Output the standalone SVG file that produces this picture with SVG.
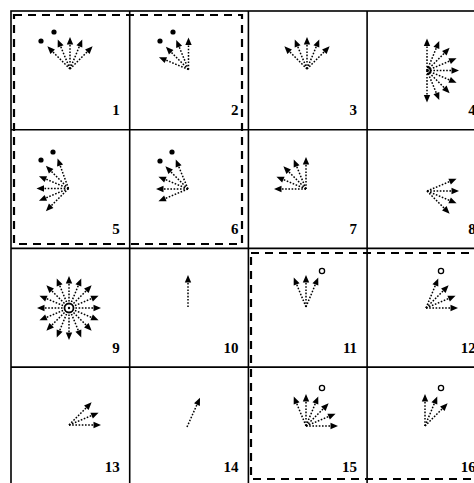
<svg xmlns="http://www.w3.org/2000/svg" xmlns:xlink="http://www.w3.org/1999/xlink" width="474" height="483" viewBox="0 0 474 483">
<style>
.grid{fill:none;stroke:#000;stroke-width:1.6}
.dash{fill:none;stroke:#000;stroke-width:2.2;stroke-dasharray:8 6}
.d{stroke:#000;stroke-width:1.5;stroke-dasharray:1.6 1.6;fill:none}
.lbl{font-family:"Liberation Serif","Times New Roman",serif;font-weight:bold;font-size:15px;text-anchor:end;fill:#000}
.dot{fill:#000}
.oc{fill:none;stroke:#000;stroke-width:1.3}
</style>
<defs>
<g id="arr"><line class="d" x1="0" y1="0" x2="0" y2="-25"/><path d="M0,-32 L-3.2,-24.5 L3.2,-24.5 Z" fill="#000"/></g>
</defs>
<rect width="474" height="483" fill="#fff"/>
<g id="grid">
<rect class="grid" x="11" y="11" width="474.8" height="474.8"/>
<line class="grid" x1="129.7" y1="11" x2="129.7" y2="486"/>
<line class="grid" x1="248.4" y1="11" x2="248.4" y2="486"/>
<line class="grid" x1="367.1" y1="11" x2="367.1" y2="486"/>
<line class="grid" x1="11" y1="129.7" x2="486" y2="129.7"/>
<line class="grid" x1="11" y1="248.4" x2="486" y2="248.4"/>
<line class="grid" x1="11" y1="367.1" x2="486" y2="367.1"/>
</g>
<g id="groups">
<rect class="dash" x="14" y="15" width="228" height="229"/>
<rect class="dash" x="251" y="253" width="235" height="226"/>
</g>
<g id="cell1">
<circle class="dot" cx="41" cy="41" r="2.6"/><circle class="dot" cx="54" cy="32" r="2.6"/>
<g transform="translate(70,69)"><use xlink:href="#arr" transform="rotate(-45)"/><use xlink:href="#arr" transform="rotate(-22.5)"/><use xlink:href="#arr"/><use xlink:href="#arr" transform="rotate(22.5)"/><use xlink:href="#arr" transform="rotate(45)"/></g>
<text class="lbl" x="119.7" y="115">1</text>
</g>
<g id="cell2">
<circle class="dot" cx="160" cy="41" r="2.6"/><circle class="dot" cx="173" cy="32" r="2.6"/>
<g transform="translate(188.5,69.5)"><use xlink:href="#arr" transform="rotate(-67.5)"/><use xlink:href="#arr" transform="rotate(-45)"/><use xlink:href="#arr" transform="rotate(-22.5)"/><use xlink:href="#arr"/></g>
<text class="lbl" x="238.4" y="115">2</text>
</g>
<g id="cell3">
<g transform="translate(307,69)"><use xlink:href="#arr" transform="rotate(-45)"/><use xlink:href="#arr" transform="rotate(-22.5)"/><use xlink:href="#arr"/><use xlink:href="#arr" transform="rotate(22.5)"/><use xlink:href="#arr" transform="rotate(45)"/></g>
<text class="lbl" x="357.1" y="115">3</text>
</g>
<g id="cell4">
<g transform="translate(427,70.5)"><use xlink:href="#arr"/><use xlink:href="#arr" transform="rotate(22.5)"/><use xlink:href="#arr" transform="rotate(45)"/><use xlink:href="#arr" transform="rotate(67.5)"/><use xlink:href="#arr" transform="rotate(90)"/><use xlink:href="#arr" transform="rotate(112.5)"/><use xlink:href="#arr" transform="rotate(135)"/><use xlink:href="#arr" transform="rotate(157.5)"/><use xlink:href="#arr" transform="rotate(180)"/>
<path d="M0,-3.5 A3.5,3.5 0 0,1 0,3.5" fill="none" stroke="#000" stroke-width="1.8"/></g>
<text class="lbl" x="475.8" y="115">4</text>
</g>
<g id="cell5">
<circle class="dot" cx="41" cy="160" r="2.6"/><circle class="dot" cx="53" cy="152" r="2.6"/>
<g transform="translate(68.5,188.5)"><use xlink:href="#arr" transform="rotate(-20)"/><use xlink:href="#arr" transform="rotate(-45)"/><use xlink:href="#arr" transform="rotate(-67.5)"/><use xlink:href="#arr" transform="rotate(-90)"/><use xlink:href="#arr" transform="rotate(-112.5)"/><use xlink:href="#arr" transform="rotate(-135)"/></g>
<text class="lbl" x="119.7" y="234">5</text>
</g>
<g id="cell6">
<circle class="dot" cx="160" cy="161" r="2.6"/><circle class="dot" cx="172" cy="152" r="2.6"/>
<g transform="translate(188,189)"><use xlink:href="#arr" transform="rotate(-22.5)"/><use xlink:href="#arr" transform="rotate(-45)"/><use xlink:href="#arr" transform="rotate(-67.5)"/><use xlink:href="#arr" transform="rotate(-90)"/><use xlink:href="#arr" transform="rotate(-112.5)"/></g>
<text class="lbl" x="238.4" y="234">6</text>
</g>
<g id="cell7">
<g transform="translate(306,189)"><use xlink:href="#arr"/><use xlink:href="#arr" transform="rotate(-22.5)"/><use xlink:href="#arr" transform="rotate(-45)"/><use xlink:href="#arr" transform="rotate(-67.5)"/><use xlink:href="#arr" transform="rotate(-90)"/></g>
<text class="lbl" x="357.1" y="234">7</text>
</g>
<g id="cell8">
<g transform="translate(427,191)"><use xlink:href="#arr" transform="rotate(67.5)"/><use xlink:href="#arr" transform="rotate(90)"/><use xlink:href="#arr" transform="rotate(112.5)"/><use xlink:href="#arr" transform="rotate(135)"/></g>
<text class="lbl" x="475.8" y="234">8</text>
</g>
<g id="cell9">
<g transform="translate(69,308)"><use xlink:href="#arr"/><use xlink:href="#arr" transform="rotate(22.5)"/><use xlink:href="#arr" transform="rotate(45)"/><use xlink:href="#arr" transform="rotate(67.5)"/><use xlink:href="#arr" transform="rotate(90)"/><use xlink:href="#arr" transform="rotate(112.5)"/><use xlink:href="#arr" transform="rotate(135)"/><use xlink:href="#arr" transform="rotate(157.5)"/><use xlink:href="#arr" transform="rotate(180)"/><use xlink:href="#arr" transform="rotate(202.5)"/><use xlink:href="#arr" transform="rotate(225)"/><use xlink:href="#arr" transform="rotate(247.5)"/><use xlink:href="#arr" transform="rotate(270)"/><use xlink:href="#arr" transform="rotate(292.5)"/><use xlink:href="#arr" transform="rotate(315)"/><use xlink:href="#arr" transform="rotate(337.5)"/>
<circle cx="0" cy="0" r="4.5" fill="#fff" stroke="#000" stroke-width="1.8"/><circle cx="0" cy="0" r="1.2" fill="#000"/></g>
<text class="lbl" x="119.7" y="353">9</text>
</g>
<g id="cell10">
<g transform="translate(188,307)"><use xlink:href="#arr"/></g>
<text class="lbl" x="238.4" y="353">10</text>
</g>
<g id="cell11">
<circle class="oc" cx="322" cy="271" r="2.6"/>
<g transform="translate(306,307)"><use xlink:href="#arr" transform="rotate(-22.5)"/><use xlink:href="#arr"/><use xlink:href="#arr" transform="rotate(22.5)"/></g>
<text class="lbl" x="357.1" y="353">11</text>
</g>
<g id="cell12">
<circle class="oc" cx="441" cy="271" r="2.6"/>
<g transform="translate(426,308)"><use xlink:href="#arr" transform="rotate(22.5)"/><use xlink:href="#arr" transform="rotate(45)"/><use xlink:href="#arr" transform="rotate(67.5)"/><use xlink:href="#arr" transform="rotate(90)"/></g>
<text class="lbl" x="475.8" y="353">12</text>
</g>
<g id="cell13">
<g transform="translate(69,425)"><use xlink:href="#arr" transform="rotate(45)"/><use xlink:href="#arr" transform="rotate(67.5)"/><use xlink:href="#arr" transform="rotate(90)"/></g>
<text class="lbl" x="119.7" y="471.5">13</text>
</g>
<g id="cell14">
<g transform="translate(187,427)"><use xlink:href="#arr" transform="rotate(24)"/></g>
<text class="lbl" x="238.4" y="471.5">14</text>
</g>
<g id="cell15">
<circle class="oc" cx="322" cy="388" r="2.6"/>
<g transform="translate(306,426)"><use xlink:href="#arr" transform="rotate(-22.5)"/><use xlink:href="#arr"/><use xlink:href="#arr" transform="rotate(22.5)"/><use xlink:href="#arr" transform="rotate(45)"/><use xlink:href="#arr" transform="rotate(67.5)"/><use xlink:href="#arr" transform="rotate(90)"/></g>
<text class="lbl" x="357.1" y="471.5">15</text>
</g>
<g id="cell16">
<circle class="oc" cx="441" cy="388" r="2.6"/>
<g transform="translate(425,426)"><use xlink:href="#arr"/><use xlink:href="#arr" transform="rotate(22.5)"/><use xlink:href="#arr" transform="rotate(45)"/></g>
<text class="lbl" x="475.8" y="471.5">16</text>
</g>
</svg>
